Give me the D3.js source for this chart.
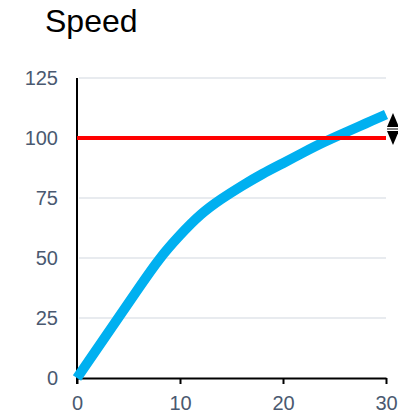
<!DOCTYPE html>
<html><head><meta charset="utf-8">
<script src="https://cdn.jsdelivr.net/npm/d3@7"></script>
<style>body{margin:0;background:#fff}svg{display:block;font-family:"Liberation Sans",Arial,sans-serif}</style>
</head><body><div id="chart"></div>
<script>
const title = "Speed";
const timeValues = [0, 2, 4, 6, 8, 10, 12, 14, 16, 18, 20, 22, 24, 26, 28, 30];
const speedValues = [0, 12.5, 25, 37.5, 49.5, 59.5, 68, 74.5, 80, 85, 89.5, 94, 98.3, 102.2, 106, 109.8];
const limitValue = 100;
const yTicks = [0, 25, 50, 75, 100, 125];
const xTicks = [0, 10, 20, 30];

const W = 398, H = 414;
const m = {left: 77, right: 12, top: 78, bottom: 36};
const svg = d3.select("#chart").append("svg").attr("width", W).attr("height", H);
const x = d3.scaleLinear().domain([0, 30]).range([m.left, W - m.right]);
const y = d3.scaleLinear().domain([0, 125]).range([H - m.bottom, m.top]);
const labelColor = "#4a5970";

svg.append("text").attr("x", 45).attr("y", 32).attr("font-size", 32).attr("fill", "#000").text(title);

// gridlines
svg.append("g").selectAll("line").data(yTicks.filter(d => d > 0)).join("line")
  .attr("x1", m.left + 2).attr("x2", x(30)).attr("y1", d => y(d)).attr("y2", d => y(d))
  .attr("stroke", "#e1e4ea").attr("stroke-width", 1.5);

// y axis labels
const ya = svg.append("g").attr("transform", `translate(${m.left},0)`)
  .call(d3.axisLeft(y).tickValues(yTicks).tickSize(0).tickPadding(19));
ya.select(".domain").remove();
ya.selectAll("text").attr("font-size", 20).attr("fill", labelColor).attr("font-family", "Liberation Sans, Arial, sans-serif");

// x axis
const xa = svg.append("g").attr("transform", `translate(0,${y(0)})`)
  .call(d3.axisBottom(x).tickValues(xTicks).tickSize(6).tickPadding(12).tickSizeOuter(0));
xa.select(".domain").attr("stroke", "#000").attr("stroke-width", 2);
xa.selectAll(".tick line").attr("stroke", "#000").attr("stroke-width", 2);
xa.selectAll("text").attr("font-size", 20).attr("fill", labelColor).attr("font-family", "Liberation Sans, Arial, sans-serif");

// y axis line
svg.append("line").attr("x1", m.left).attr("x2", m.left).attr("y1", y(125)).attr("y2", y(0) + 6)
  .attr("stroke", "#000").attr("stroke-width", 2);

// speed curve
const line = d3.line().x((d, i) => x(timeValues[i])).y(d => y(d)).curve(d3.curveNatural);
svg.append("path").datum(speedValues).attr("d", line).attr("fill", "none")
  .attr("stroke", "#00b0f0").attr("stroke-width", 10).attr("stroke-linecap", "butt");

// limit line
svg.append("line").attr("x1", m.left).attr("x2", x(30)).attr("y1", y(limitValue)).attr("y2", y(limitValue))
  .attr("stroke", "#ff0000").attr("stroke-width", 4);

// drag handle icon
const cx = x(30) + 7, cy = y(limitValue) - 9;
const g = svg.append("g");
g.append("path").attr("d", `M${cx},${cy-16} L${cx+6},${cy-2} L${cx-6},${cy-2} Z`).attr("fill", "#000");
g.append("path").attr("d", `M${cx},${cy+16} L${cx+6},${cy+2} L${cx-6},${cy+2} Z`).attr("fill", "#000");
g.append("line").attr("x1", cx - 6).attr("x2", cx + 6).attr("y1", cy).attr("y2", cy).attr("stroke", "#000").attr("stroke-width", 1);
</script></body></html>
